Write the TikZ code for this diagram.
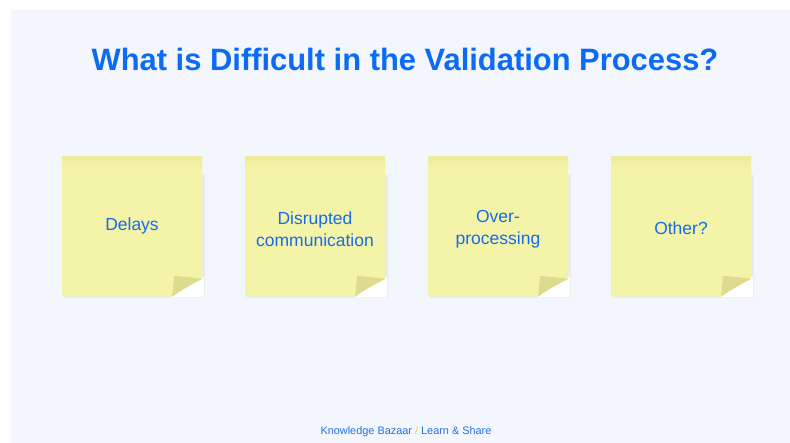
\documentclass[tikz,border=0pt]{standalone}
\usepackage{fontspec}
\setmainfont{Liberation Sans}
\definecolor{pagebg}{HTML}{F3F7FD}
\definecolor{titleblue}{HTML}{0B6BF4}
\definecolor{noteblue}{HTML}{176BEE}
\definecolor{footblue}{HTML}{2771E2}
\definecolor{footgold}{HTML}{F2CA3C}
\definecolor{notefill}{HTML}{F4F4A8}
\definecolor{notetop}{HTML}{EEEB9C}
\definecolor{notecurl}{HTML}{DEDB8E}
\definecolor{noteshade}{HTML}{E8EAEC}
\begin{document}
\begin{tikzpicture}[x=1pt,y=-1pt,
  notetext/.style={text=noteblue,align=center,font=\fontsize{17.5}{22}\selectfont},
  stickynote/.pic={
    % soft shadow along the right and bottom edges
    \fill[noteshade] (2,18) rectangle (142.5,141);
    % bare paper behind the lifted corner
    \fill[white] (139,120) -- (142,120) -- (142,140.5) -- (109,140.5) -- cycle;
    % paper with its corner folded up
    \fill[notefill] (0,0) -- (140,0) -- (140,122)
      .. controls (128,128) and (118,134) .. (110,139.5) -- (0,139.5) -- cycle;
    % darker gum strip along the top
    \shade[top color=notetop,bottom color=notefill] (0,0) rectangle (140,13);
    % the curled corner
    \fill[notecurl] (110,139.5) .. controls (111,132) and (111.5,126) .. (112,119)
      .. controls (121,119.5) and (131,120.5) .. (140,122)
      .. controls (128,128) and (118,134) .. (110,139.5) -- cycle;
  }]
\useasboundingbox (0,0) rectangle (790,443);
\fill[white] (0,0) rectangle (790,443);
\fill[pagebg] (11,10) rectangle (790,443);

\node[text=titleblue,font=\bfseries\fontsize{30.9}{36}\selectfont,anchor=base]
  (title) at (405,71) {What is Difficult in the Validation Process?};

\pic at (62,157) {stickynote};
\pic at (245,157) {stickynote};
\pic at (428,157) {stickynote};
\pic at (611,157) {stickynote};

\node[notetext] (delays) at (132,226) {Delays};
\node[notetext] (disrupted) at (315,229) {Disrupted\\communication};
\node[notetext] (overproc) at (498,229) {Over-\\processing};
\node[notetext] (other) at (681,228) {Other?};

\node[anchor=base,font=\fontsize{10.9}{13}\selectfont,text=footblue] (footer) at (406,435)
  {Knowledge Bazaar {\color{footgold}/} Learn \& Share};
\end{tikzpicture}
\end{document}
